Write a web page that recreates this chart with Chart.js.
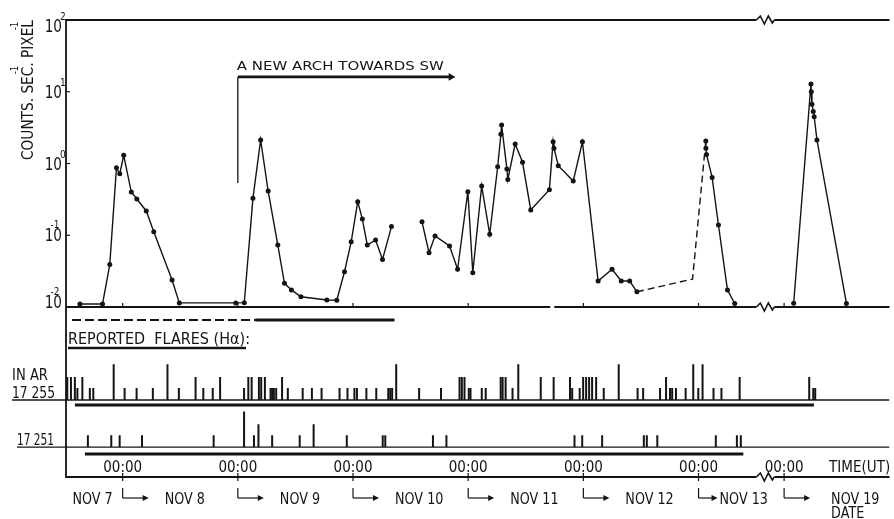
<!DOCTYPE html>
<html>
<head>
<meta charset="utf-8">
<title>Counts per pixel and reported H-alpha flares, Nov 7 - Nov 19</title>
<script src="https://cdn.jsdelivr.net/npm/chart.js@4.4.1/dist/chart.umd.min.js"></script>
<style>
  html, body { margin: 0; padding: 0; background: #fff; overflow: hidden; }
  canvas { display: block; }
</style>
</head>
<body>
<canvas id="chart" width="894" height="519"></canvas>
<script>
// ── Data (time = day of November, UT) ─────────────────────────────────────
// null = no observation (line is broken there)
const countTimes = [
  7.629, 7.825, 7.888, 7.946, 7.975, 8.009, 8.075, 8.123, 8.205, 8.270,
  8.429, 8.492, 8.982, 9.056, 9.131, 9.198, 9.263, 9.347, 9.405, 9.465,
  9.548, 9.773, 9.859, 9.926, 9.984, 10.041, 10.081, 10.124, 10.196, 10.256,
  10.334, 10.47, 10.599, 10.660, 10.712, 10.838, 10.908, 10.997, 11.040, 11.117,
  11.187, 11.256, 11.284, 11.290, 11.336, 11.344, 11.408, 11.472, 11.543, 11.705,
  11.737, 11.745, 11.782, 11.912, 11.992, 12.128, 12.249, 12.329, 12.402, 12.465,
  12.70, 13.063, 13.064, 13.069, 13.118, 13.173, 13.251, 13.314, 13.60,
  19.083, 19.233, 19.236, 19.242, 19.253, 19.261, 19.285, 19.541,
];
const countValues = [
  0.011, 0.011, 0.039, 0.87, 0.72, 1.30, 0.40, 0.32, 0.218, 0.112,
  0.0238, 0.0114, 0.0114, 0.0115, 0.327, 2.13, 0.414, 0.073, 0.0214, 0.0173,
  0.0139, 0.0125, 0.0124, 0.031, 0.081, 0.294, 0.168, 0.073, 0.086, 0.046,
  0.132, null, 0.154, 0.057, 0.098, 0.071, 0.0335, 0.405, 0.030, 0.485,
  0.103, 0.90, 2.55, 3.44, 0.84, 0.60, 1.87, 1.04, 0.225, 0.43,
  2.01, 1.63, 0.93, 0.57, 2.01, 0.023, 0.0335, 0.023, 0.023, 0.0163,
  null, 2.06, 1.63, 1.34, 0.64, 0.139, 0.0173, 0.0112, null,
  0.0113, 12.8, 10.0, 6.7, 5.3, 4.5, 2.13, 0.0112,
];
// dashed stretch over the Nov 12 gap
const bridgeTimes = [12.465, 12.948, 13.063];
const bridgeValues = [0.0163, 0.0245, 2.06];

// "a new arch towards SW" marker
const archStart = 9.0;
const archEnd = 10.85;
const archLow = 0.535;
const archHigh = 16.1;

// reported flares, importance 1 = small, 2 = medium, 3 = large
const ar17255Times = [
  7.519, 7.551, 7.585, 7.607, 7.650, 7.715, 7.745, 7.922, 8.017, 8.121,
  8.262, 8.389, 8.488, 8.633, 8.700, 8.782, 8.846, 9.054, 9.091, 9.120,
  9.183, 9.203, 9.235, 9.284, 9.298, 9.313, 9.333, 9.384, 9.434, 9.563,
  9.643, 9.727, 9.883, 9.952, 10.012, 10.034, 10.116, 10.202, 10.306, 10.323,
  10.340, 10.375, 10.574, 10.764, 10.925, 10.945, 10.968, 11.005, 11.020, 11.118,
  11.152, 11.282, 11.299, 11.325, 11.385, 11.435, 11.630, 11.742, 11.884, 11.903,
  11.968, 11.998, 12.024, 12.050, 12.076, 12.111, 12.177, 12.307, 12.471, 12.519,
  12.666, 12.718, 12.752, 12.771, 12.804, 12.888, 12.954, 12.998, 13.035, 13.130,
  13.199, 13.357, 19.218, 19.253, 19.270,
];
const ar17255Class = [
  2, 2, 2, 1, 2, 1, 1, 3, 1, 1,
  1, 3, 1, 2, 1, 1, 2, 1, 2, 2,
  2, 2, 2, 1, 1, 1, 1, 2, 1, 1,
  1, 1, 1, 1, 1, 1, 1, 1, 1, 1,
  1, 3, 1, 1, 2, 2, 2, 1, 1, 1,
  1, 2, 2, 2, 1, 3, 2, 2, 2, 1,
  1, 2, 2, 2, 2, 2, 1, 3, 1, 1,
  1, 2, 1, 1, 1, 1, 3, 1, 3, 1,
  1, 2, 2, 1, 1,
];
const ar17251Times = [
  7.698, 7.901, 7.974, 8.168, 8.790, 9.054, 9.140, 9.179, 9.298, 9.537,
  9.658, 9.946, 10.258, 10.280, 10.694, 10.811, 11.923, 11.990, 12.163, 12.525,
  12.551, 12.642, 13.150, 13.333, 13.367,
];
const ar17251Class = [
  1, 1, 1, 1, 1, 3, 1, 2, 1, 1,
  2, 1, 1, 1, 1, 1, 1, 1, 1, 1,
  1, 1, 1, 1, 1,
];
// observing coverage (thick bars under each row)
const ar17255Cover = [7.585, 19.259];
const ar17251Cover = [7.672, 13.389];

// ── Ticks / labels ────────────────────────────────────────────────────────
const yTickValues = [100, 10, 1, 0.1, 0.01];
const yTickExps = ['2', '1', '0', '-1', '-2'];
const dayStarts = [8, 9, 10, 11, 12, 13, 19];
const dateLabels = ['NOV 7', 'NOV 8', 'NOV 9', 'NOV 10', 'NOV 11', 'NOV 12', 'NOV 13', 'NOV 19'];

// ── Axis setup ────────────────────────────────────────────────────────────
const GAP = 5.257;            // days cut out between Nov 13 and Nov 19
const X_MIN = 7.508;
const X_MAX = 14.658;
const BREAK_AT = 13.58;       // where the zig-zag goes (axis units)
const axisX = (t) => (t >= 18 ? t - GAP : t);

const INK = '#141414';
const ROW1 = 45.3;            // flare row baselines on the lower panel axis
const ROW2 = 17.6;
const FLARE_H = [7, 13.5, 21];

const pts = (times, vals) => times.map((t, i) => ({ x: axisX(t), y: vals[i] }));
const bars = (times, cls, base) =>
  times.map((t, i) => ({ x: axisX(t), y: [base, base + FLARE_H[cls[i] - 1]] }));
const flat = (x0, x1, v) => [{ x: x0, y: v }, { x: x1, y: v }];

// ── Drawing helpers ───────────────────────────────────────────────────────
function txt(ctx, s, x, y, size, o = {}) {
  ctx.save();
  ctx.font = size + 'px "DejaVu Sans", "Liberation Sans", sans-serif';
  const w = ctx.measureText(s).width;
  const sx = o.width ? o.width / w : o.squeeze || 1;
  ctx.translate(x, y);
  ctx.scale(sx, 1);
  ctx.textAlign = o.align || 'left';
  ctx.textBaseline = 'alphabetic';
  ctx.fillText(s, 0, 0);
  ctx.restore();
  return w * sx;
}

function seg(ctx, x1, y1, x2, y2, lw) {
  ctx.lineWidth = lw;
  ctx.beginPath();
  ctx.moveTo(x1, y1);
  ctx.lineTo(x2, y2);
  ctx.stroke();
}

function zigzag(ctx, x, y, lw) {
  ctx.lineWidth = lw;
  ctx.beginPath();
  ctx.moveTo(x - 9, y);
  ctx.lineTo(x - 5, y - 4);
  ctx.lineTo(x - 1, y + 4);
  ctx.lineTo(x + 3, y - 4);
  ctx.lineTo(x + 7, y + 3);
  ctx.lineTo(x + 9, y);
  ctx.stroke();
}

function arrowHead(ctx, x, y) {
  ctx.beginPath();
  ctx.moveTo(x, y);
  ctx.lineTo(x - 6, y - 3);
  ctx.lineTo(x - 6, y + 3);
  ctx.closePath();
  ctx.fill();
}

// frame, breaks, tick labels and lettering
const paper = {
  id: 'paper',
  afterDraw(chart) {
    const { ctx, chartArea: a } = chart;
    const { x, y, yf } = chart.scales;
    const xs = (t) => x.getPixelForValue(axisX(t));
    const yTop = y.getPixelForValue(100);
    const yLow = y.getPixelForValue(0.01);
    const yBot = yf.getPixelForValue(0);
    const xb = x.getPixelForValue(BREAK_AT);

    ctx.save();
    ctx.strokeStyle = INK;
    ctx.fillStyle = INK;

    // frame
    seg(ctx, a.left, yTop - 1, a.left, yBot + 1, 1.8);
    seg(ctx, a.left, yTop, xb - 9, yTop, 2);
    zigzag(ctx, xb, yTop, 1.6);
    seg(ctx, xb + 9, yTop, a.right, yTop, 2);
    const xg = xs(11.73);
    seg(ctx, a.left, yLow, xg - 2, yLow, 1.8);
    seg(ctx, xg + 2, yLow, xb - 9, yLow, 1.8);
    zigzag(ctx, xb, yLow, 1.6);
    seg(ctx, xb + 9, yLow, a.right, yLow, 1.8);
    seg(ctx, a.left, yBot, xb - 9, yBot, 1.8);
    zigzag(ctx, xb, yBot, 1.6);
    seg(ctx, xb + 9, yBot, a.right, yBot, 1.8);

    // y ticks: 10 with exponent
    yTickValues.forEach((v, i) => {
      const py = y.getPixelForValue(v);
      seg(ctx, a.left, py, a.left + 4, py, 1.2);
      const ny = i === 0 ? 6 : i === yTickValues.length - 1 ? -5 : 0;
      txt(ctx, '10', a.left - 4, py + ny + 6, 17, { align: 'right', squeeze: 0.8 });
      const e = yTickExps[i];
      if (e[0] === '-') txt(ctx, e, a.left - 11, py + ny - 7, 10, { align: 'center', squeeze: 0.9 });
      else txt(ctx, e, a.left - 6, py + ny - 6, 10, { squeeze: 0.9 });
    });

    // y title
    ctx.save();
    ctx.translate(a.left - 33, yTop + 140);
    ctx.rotate(-Math.PI / 2);
    ctx.font = '16px "DejaVu Sans", sans-serif';
    const p1 = 'COUNTS. SEC.';
    const p2 = ' PIXEL';
    const w1 = ctx.measureText(p1).width;
    const w2 = ctx.measureText(p2).width;
    ctx.scale(140 / (w1 + w2), 1);
    ctx.fillText(p1 + p2, 0, 0);
    ctx.font = '10px "DejaVu Sans", sans-serif';
    ctx.fillText('-1', w1 - 14, -15);
    ctx.fillText('-1', w1 + w2 - 12, -15);
    ctx.restore();

    // arch label
    txt(ctx, 'A NEW ARCH TOWARDS SW', xs(archStart) - 1, y.getPixelForValue(archHigh) - 7, 13, { width: 207 });

    // lower panel lettering
    ctx.setLineDash([9, 4]);
    seg(ctx, xs(7.56), yLow + 13, xs(9.15), yLow + 13, 2.2);
    ctx.setLineDash([]);
    seg(ctx, xs(9.15), yLow + 13, xs(10.36), yLow + 13, 3);
    txt(ctx, 'REPORTED  FLARES (H\u03b1):', a.left + 2, yLow + 37, 15, { width: 182 });
    seg(ctx, a.left + 2, yLow + 41, a.left + 180, yLow + 41, 2.5);

    const y1 = yf.getPixelForValue(ROW1);
    const y2 = yf.getPixelForValue(ROW2);
    txt(ctx, 'IN AR', 12, y1 - 20, 15, { width: 36 });
    txt(ctx, '17 255', 12, y1 - 2, 15, { width: 43 });
    seg(ctx, 12, y1, a.left, y1, 1.4);
    txt(ctx, '17 251', 17, y2 - 2, 15, { width: 37 });
    seg(ctx, 17, y2, a.left, y2, 1.4);

    // time axis
    dayStarts.forEach((d, i) => {
      const px = xs(d);
      seg(ctx, px, yLow, px, yLow - 4, 1.2);
      seg(ctx, px, yBot - 4, px, yBot + 4, 1.2);
      txt(ctx, '00:00', px, yBot - 5, 15, { align: 'center', squeeze: 0.9 });
      const len = d === 13 ? 19 : 26;
      seg(ctx, px, yBot + 11, px, yBot + 21, 1.2);
      seg(ctx, px, yBot + 21, px + len - 4, yBot + 21, 1.2);
      arrowHead(ctx, px + len, yBot + 21);
      const off = d === 13 ? 21 : d === 19 ? 47 : 42;
      txt(ctx, dateLabels[i + 1], px + off, yBot + 27, 15, { squeeze: 0.85 });
    });
    txt(ctx, dateLabels[0], xs(dayStarts[0]) - 10, yBot + 27, 15, { align: 'right', squeeze: 0.85 });
    const x19 = xs(19);
    txt(ctx, 'TIME(UT)', x19 + 45, yBot - 5, 15, { squeeze: 0.9 });
    txt(ctx, 'DATE', x19 + 47, yBot + 41, 15, { squeeze: 0.85 });

    ctx.restore();
  },
};

// ── Chart ─────────────────────────────────────────────────────────────────
const lineBase = { type: 'line', borderColor: INK, pointRadius: 0, tension: 0, fill: false };
const barBase = {
  type: 'bar', yAxisID: 'yf', backgroundColor: INK, borderWidth: 0,
  barThickness: 2, grouped: false, inflateAmount: 0,
};

new Chart(document.getElementById('chart'), {
  type: 'line',
  data: {
    datasets: [
      {
        ...lineBase, label: 'counts', yAxisID: 'y',
        data: pts(countTimes, countValues),
        borderWidth: 1.4, pointRadius: 2.5, pointBackgroundColor: INK,
        pointBorderWidth: 0, spanGaps: false,
      },
      { ...lineBase, label: 'bridge', yAxisID: 'y', data: pts(bridgeTimes, bridgeValues), borderWidth: 1.4, borderDash: [7, 4] },
      { ...lineBase, label: 'arch', yAxisID: 'y', data: [{ x: archStart, y: archLow }, { x: archStart, y: archHigh }], borderWidth: 1.3 },
      {
        ...lineBase, label: 'arch arrow', yAxisID: 'y',
        data: [{ x: archStart, y: archHigh }, { x: archEnd, y: archHigh }],
        borderWidth: 2.8, pointRadius: [0, 4.5], pointStyle: 'triangle', rotation: 90,
        pointBackgroundColor: INK, pointBorderWidth: 0,
      },
      { ...barBase, label: 'AR 17255', data: bars(ar17255Times, ar17255Class, ROW1) },
      { ...barBase, label: 'AR 17251', data: bars(ar17251Times, ar17251Class, ROW2) },
      { ...lineBase, yAxisID: 'yf', data: flat(X_MIN, X_MAX, ROW1), borderWidth: 1.4 },
      { ...lineBase, yAxisID: 'yf', data: flat(X_MIN, X_MAX, ROW2), borderWidth: 1.4 },
      { ...lineBase, yAxisID: 'yf', data: flat(axisX(ar17255Cover[0]), axisX(ar17255Cover[1]), ROW1 - 2.9), borderWidth: 3 },
      { ...lineBase, yAxisID: 'yf', data: flat(axisX(ar17251Cover[0]), axisX(ar17251Cover[1]), ROW2 - 4.1), borderWidth: 3 },
    ],
  },
  options: {
    responsive: false,
    animation: false,
    events: [],
    layout: { padding: { top: 20, bottom: 42, left: 0, right: 0 } },
    plugins: { legend: { display: false }, tooltip: { enabled: false } },
    scales: {
      // bar datasets would otherwise switch on offset for x
      x: { type: 'linear', min: X_MIN, max: X_MAX, offset: false, display: false },
      yf: {
        type: 'linear', position: 'left', stack: 'panels', stackWeight: 170,
        min: 0, max: 100,
        ticks: { display: false }, grid: { display: false }, border: { display: false },
        afterFit: (s) => { s.width = 66; },
      },
      y: {
        type: 'logarithmic', position: 'left', stack: 'panels', stackWeight: 287,
        min: 0.01, max: 100,
        ticks: { display: false }, grid: { display: false }, border: { display: false },
        afterFit: (s) => { s.width = 66; },
      },
    },
  },
  plugins: [paper],
});
</script>
</body>
</html>
